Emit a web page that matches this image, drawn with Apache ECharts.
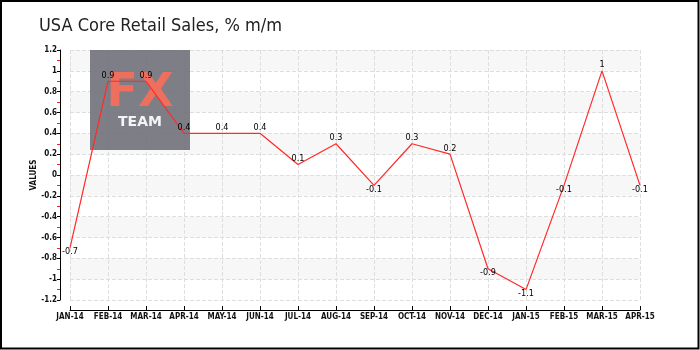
<!DOCTYPE html>
<html><head><meta charset="utf-8">
<script src="https://cdn.jsdelivr.net/npm/echarts@6/dist/echarts.min.js"></script>
<style>html,body{margin:0;padding:0;background:#fff}#c{width:700px;height:350px}</style>
</head><body><div id="c"></div>
<script>
const categories = ['JAN-14','FEB-14','MAR-14','APR-14','MAY-14','JUN-14','JUL-14','AUG-14','SEP-14','OCT-14','NOV-14','DEC-14','JAN-15','FEB-15','MAR-15','APR-15'];
const values = [-0.7, 0.9, 0.9, 0.4, 0.4, 0.4, 0.1, 0.3, -0.1, 0.3, 0.2, -0.9, -1.1, -0.1, 1, -0.1];
const titleText = 'USA Core Retail Sales, % m/m';
const yName = 'VALUES';

const font = '"DejaVu Sans Condensed", "DejaVu Sans", sans-serif';
const seriesData = values.map(v => ({
  value: v,
  label: v >= 0 ? {show: true, position: 'top', distance: 1} : {show: true, position: 'bottom', distance: -1}
}));

const chart = echarts.init(document.getElementById('c'), null, {renderer: 'canvas'});
chart.setOption({
  animation: false,
  backgroundColor: '#fff',
  title: {
    text: titleText, left: 34, top: 12,
    textStyle: {fontFamily: font, fontSize: 18, fontWeight: 'normal', color: '#222'}
  },
  grid: {left: 70, right: 60, top: 50, bottom: 50, containLabel: false},
  xAxis: {
    type: 'category', data: categories, boundaryGap: false, offset: 10,
    axisLine: {onZero: false, lineStyle: {color: '#000', width: 1}},
    axisTick: {inside: true, length: 4, lineStyle: {color: '#000'}},
    axisLabel: {fontFamily: font, fontSize: 8, fontWeight: 'bold', color: '#111', margin: 3, interval: 0},
    splitLine: {show: true, lineStyle: {color: '#dedede', type: 'dashed'}}
  },
  yAxis: {
    type: 'value', min: -1.2, max: 1.2, interval: 0.2, offset: 10,
    name: yName, nameLocation: 'middle', nameGap: 22, nameRotate: 90, nameMoveOverlap: false,
    nameTextStyle: {fontFamily: font, fontSize: 8, fontWeight: 'bold', color: '#111'},
    axisLine: {show: true, onZero: false, lineStyle: {color: '#000', width: 1}},
    axisTick: {show: true, length: 3, lineStyle: {color: '#000'}},
    minorTick: {show: true, splitNumber: 2, length: 3, lineStyle: {color: '#ff2020'}},
    axisLabel: {fontFamily: font, fontSize: 8, fontWeight: 'bold', color: '#111', margin: 3,
      formatter: v => String(Math.round(v * 10) / 10)},
    splitLine: {show: true, lineStyle: {color: '#dedede', type: 'dashed'}},
    splitArea: {show: true, areaStyle: {color: ['#ffffff', '#f7f7f7']}}
  },
  graphic: [
    {type: 'rect', z: 1, shape: {x: 90, y: 50, width: 100, height: 100},
     style: {fill: 'rgba(112,112,122,0.9)'}},
    {type: 'text', z: 1, x: 140, y: 94, style: {text: 'FX', fontFamily: '"DejaVu Sans", sans-serif', fontSize: 46, fontWeight: 'bold', fill: '#ee6f5e', align: 'center', verticalAlign: 'middle'}},
    {type: 'text', z: 1, x: 140, y: 122, style: {text: 'TEAM', fontFamily: '"DejaVu Sans", sans-serif', fontSize: 14, fontWeight: 'bold', fill: '#f4f4f4', align: 'center', verticalAlign: 'middle'}},
    {type: 'rect', z: 100, shape: {x: 1, y: 1, width: 697.5, height: 347.5},
     style: {fill: 'none', stroke: '#000', lineWidth: 2}}
  ],
  series: [{
    type: 'line', data: seriesData, z: 5,
    symbol: 'circle', symbolSize: 1, showSymbol: true,
    itemStyle: {color: 'rgba(0,0,0,0)', borderWidth: 0},
    lineStyle: {color: '#ff2a2a', width: 1.2},
    label: {show: true, fontFamily: font, fontSize: 9, color: '#000',
      formatter: p => String(p.value)}
  }]
});
</script></body></html>
